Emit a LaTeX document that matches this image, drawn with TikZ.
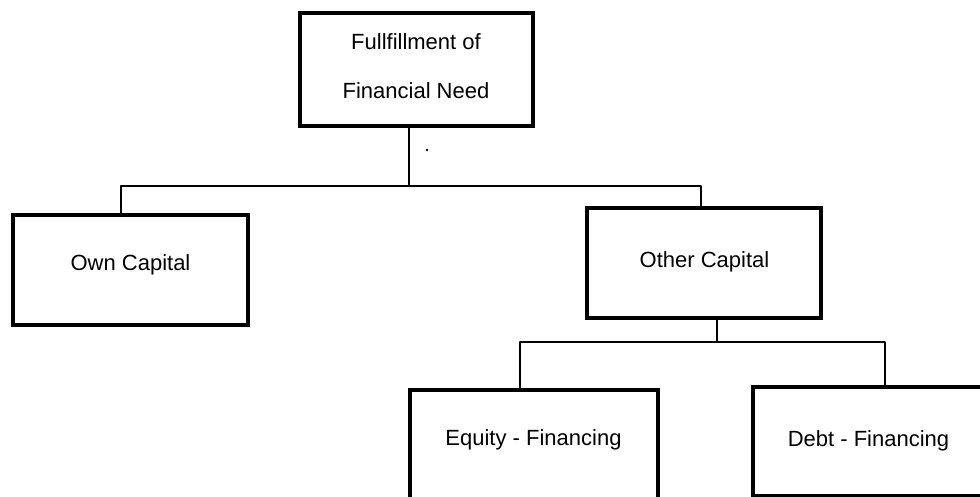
\documentclass[tikz,border=0pt]{standalone}
\usepackage{fontspec}
\setmainfont{Liberation Sans}
\begin{document}
\begin{tikzpicture}[x=1pt,y=-1pt,
  box/.style={draw=black,line width=3.4pt,rectangle,inner sep=0pt,outer sep=0pt},
  lbl/.style={anchor=base,inner sep=0pt,font=\fontsize{22}{26}\selectfont},
  link/.style={draw=black,line width=2.2pt,line join=round}]
\useasboundingbox (0,0) rectangle (980,497);
\clip (0,0) rectangle (980,497);
\fill[white] (0,0) rectangle (980,497);

% boxes
\node[box,minimum width=233pt,minimum height=113pt] (need) at (416.5,69.5) {};
\node[box,minimum width=235pt,minimum height=110pt] (own) at (130.5,270) {};
\node[box,minimum width=234pt,minimum height=110pt] (other) at (704,263) {};
\node[box,minimum width=248pt,minimum height=130pt] (equity) at (534,455) {};
\node[box,minimum width=247pt,minimum height=109pt] (debt) at (876.5,441.5) {};

% labels
\node[lbl] (needA) at (416,50) {Fullfillment of};
\node[lbl] (needB) at (416,99) {Financial Need};
\node[lbl] (ownT) at (130.5,270) {Own Capital};
\node[lbl] (otherT) at (704.5,268) {Other Capital};
\node[lbl] (equityT) at (533.5,445) {Equity - Financing};
\node[lbl] (debtT) at (868.5,446) {Debt - Financing};

% first level of the tree
\coordinate (j1) at (409,186);
\coordinate (a1) at (121,186);
\coordinate (a2) at (701,186);
\draw[link] (j1 |- need.south) -- (j1);
\draw[link] (a1 |- own.north) -- (a1) -- (a2) -- (a2 |- other.north);

% second level of the tree
\coordinate (j2) at (717,342);
\coordinate (b1) at (520,342);
\coordinate (b2) at (885,342);
\draw[link] (j2 |- other.south) -- (j2);
\draw[link] (b1 |- equity.north) -- (b1) -- (b2) -- (b2 |- debt.north);

% small speck under the top box
\fill[black] (427,150) circle (1.3pt);
\end{tikzpicture}
\end{document}
